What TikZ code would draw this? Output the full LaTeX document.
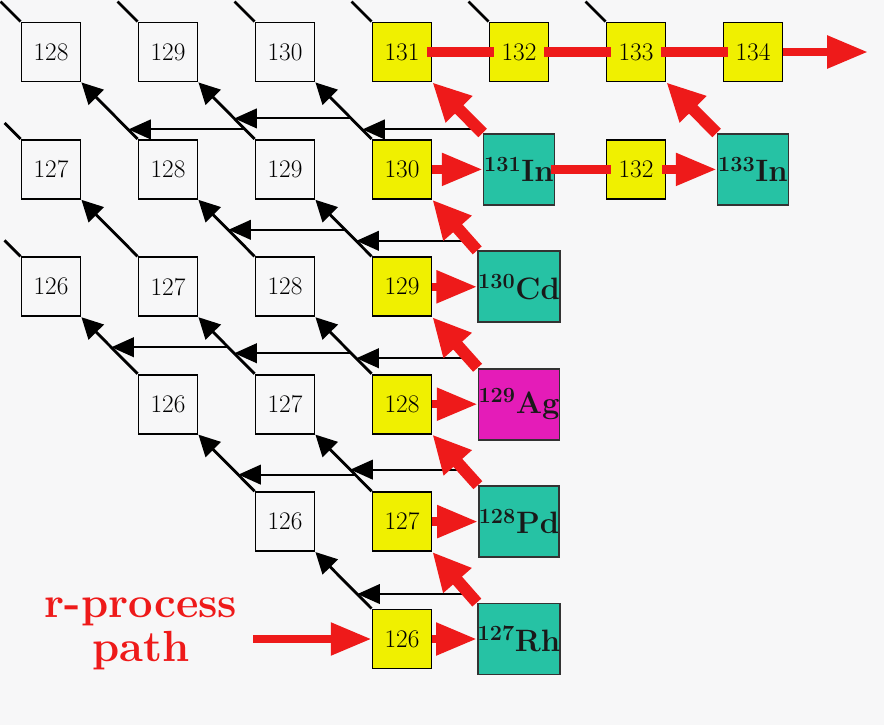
\documentclass[tikz,border=0pt]{standalone}
\usepackage{tikz}
\usetikzlibrary{arrows.meta,calc}
\usepackage{xcolor}
\definecolor{rflowred}{HTML}{EE1A1A}
\definecolor{waitpt}{HTML}{F0F000}
\definecolor{closed}{HTML}{26C2A4}
\definecolor{agpink}{HTML}{E41CB8}
\definecolor{paper}{HTML}{F7F7F8}

\begin{document}
\begin{tikzpicture}[x=0.025cm,y=-0.025cm,
  iso/.style={draw,line width=1.3pt,minimum size=1.475cm,inner sep=0pt,font=\fontsize{18}{18}\selectfont},
  wp/.style={iso,fill=waitpt},
  nuc/.style={draw=black!80,line width=1.3pt,minimum size=1.775cm,inner sep=0pt,text=black!90,font=\fontsize{22}{22}\selectfont\bfseries,fill=closed},
  beta/.style={line width=2pt,-{Triangle[length=15pt,width=15pt]}},
  betan/.style={line width=1.4pt,-{Triangle[length=16pt,width=14pt]}},
  stub/.style={line width=2pt},
  rbar/.style={rflowred,line width=6.5pt},
  rflow/.style={rflowred,line width=6pt,-{Triangle[length=29pt,width=22pt]}},
  rbeta/.style={rflowred,line width=8.5pt,-{Triangle[length=27pt,width=25pt]}}]
  \fill[paper] (0,0) rectangle (884,725);
  \useasboundingbox (0,0) rectangle (884,725);

  % Sn
  \node[iso] (sn128) at (51,52) {128};
  \node[iso] (sn129) at (168,52) {129};
  \node[iso] (sn130) at (285,52) {130};
  \node[wp] (sn131) at (402,52) {131};
  \node[wp] (sn132) at (519,52) {132};
  \node[wp] (sn133) at (636,52) {133};
  \node[wp] (sn134) at (753,52) {134};
  % In
  \node[iso] (in127) at (51,169.4) {127};
  \node[iso] (in128) at (168,169.4) {128};
  \node[iso] (in129) at (285,169.4) {129};
  \node[wp] (in130) at (402,169.4) {130};
  \node[nuc] (in131) at (519,169.4) {\textsuperscript{131}In};
  \node[wp] (in132) at (636,169.4) {132};
  \node[nuc] (in133) at (753,169.4) {\textsuperscript{133}In};
  % Cd
  \node[iso] (cd126) at (51,286.8) {126};
  \node[iso] (cd127) at (168,286.8) {127};
  \node[iso] (cd128) at (285,286.8) {128};
  \node[wp] (cd129) at (402,286.8) {129};
  \node[nuc] (cd130) at (519,286.8) {\textsuperscript{130}Cd};
  % Ag
  \node[iso] (ag126) at (168,404.2) {126};
  \node[iso] (ag127) at (285,404.2) {127};
  \node[wp] (ag128) at (402,404.2) {128};
  \node[nuc,fill=agpink] (ag129) at (519,404.2) {\textsuperscript{129}Ag};
  % Pd
  \node[iso] (pd126) at (285,521.6) {126};
  \node[wp] (pd127) at (402,521.6) {127};
  \node[nuc] (pd128) at (519,521.6) {\textsuperscript{128}Pd};
  % Rh
  \node[wp] (rh126) at (402,639) {126};
  \node[nuc] (rh127) at (519,639) {\textsuperscript{127}Rh};

  \node[rflowred,font=\fontsize{31}{31}\selectfont\bfseries,align=center,inner sep=0pt] (rlabel) at (141,634) {r-process\\path};
  \coordinate (rstart) at (253,639);
  \coordinate (rout) at (868,52);

  % beta decays
  \foreach \n in {sn128,sn129,sn130,sn131,sn132,sn133}{
    \coordinate (\n t) at ($(\n.north west)+(-20,-20)$);
    \draw[stub] (\n.north west) -- (\n t);}
  \foreach \n in {in127,cd126}{
    \coordinate (\n t) at ($(\n.north west)+(-16,-16)$);
    \draw[stub] (\n.north west) -- (\n t);}
  \draw[beta] (in128.north west) -- (sn128.south east);
  \draw[beta] (in129.north west) -- (sn129.south east);
  \draw[beta] (in130.north west) -- (sn130.south east);
  \draw[beta] (cd127.north west) -- (in127.south east);
  \draw[beta] (cd128.north west) -- (in128.south east);
  \draw[beta] (cd129.north west) -- (in129.south east);
  \draw[beta] (ag126.north west) -- (cd126.south east);
  \draw[beta] (ag127.north west) -- (cd127.south east);
  \draw[beta] (ag128.north west) -- (cd128.south east);
  \draw[beta] (pd126.north west) -- (ag126.south east);
  \draw[beta] (pd127.north west) -- (ag127.south east);
  \draw[beta] (rh126.north west) -- (pd126.south east);

  % beta-delayed neutrons
  \draw[betan] ($(sn131.south east)+(47,47)$) -- ($(sn130.south east)+(47,47)$);
  \draw[betan] ($(sn130.south east)+(36,36)$) -- ($(sn129.south east)+(36,36)$);
  \draw[betan] ($(sn129.south east)+(47,47)$) -- ($(sn128.south east)+(47,47)$);
  \draw[betan] ($(in130.south east)+(41,41)$) -- ($(in129.south east)+(41,41)$);
  \draw[betan] ($(in129.south east)+(30,30)$) -- ($(in128.south east)+(30,30)$);
  \draw[betan] ($(cd129.south east)+(41,41)$) -- ($(cd128.south east)+(41,41)$);
  \draw[betan] ($(cd128.south east)+(36,36)$) -- ($(cd127.south east)+(36,36)$);
  \draw[betan] ($(cd127.south east)+(30,30)$) -- ($(cd126.south east)+(30,30)$);
  \draw[betan] ($(ag128.south east)+(35,35)$) -- ($(ag127.south east)+(35,35)$);
  \draw[betan] ($(ag127.south east)+(40,40)$) -- ($(ag126.south east)+(40,40)$);
  \draw[betan] ($(pd127.south east)+(42,42)$) -- ($(pd126.south east)+(42,42)$);

  % r-process path
  \draw[rflow] (rstart) -- (rh126.west);
  \draw[rflow] (rh126.east) -- (rh127.west);
  \draw[rflow] (pd127.east) -- (pd128.west);
  \draw[rflow] (ag128.east) -- (ag129.west);
  \draw[rflow] (cd129.east) -- (cd130.west);
  \draw[rflow] (in130.east) -- (in131.west);
  \draw[rbeta] (rh127.north west) -- (pd127.south east);
  \draw[rbeta] (pd128.north west) -- (ag128.south east);
  \draw[rbeta] (ag129.north west) -- (cd129.south east);
  \draw[rbeta] (cd130.north west) -- (in130.south east);
  \draw[rbeta] (in131.north west) -- (sn131.south east);
  \draw[rbeta] (in133.north west) -- (sn133.south east);
  \draw[rbar] ($(in131.east)+(-4,0)$) -- ($(in132.west)+(5,0)$);
  \draw[rflow] ($(in132.east)+(-4,0)$) -- (in133.west);
  \draw[rbar] ($(sn131.east)+(-5,0)$) -- ($(sn132.west)+(5,0)$);
  \draw[rbar] ($(sn132.east)+(-5,0)$) -- ($(sn133.west)+(5,0)$);
  \draw[rbar] ($(sn133.east)+(-5,0)$) -- ($(sn134.west)+(5,0)$);
  \draw[rflow] (sn134.east) -- (rout);
\end{tikzpicture}
\end{document}
